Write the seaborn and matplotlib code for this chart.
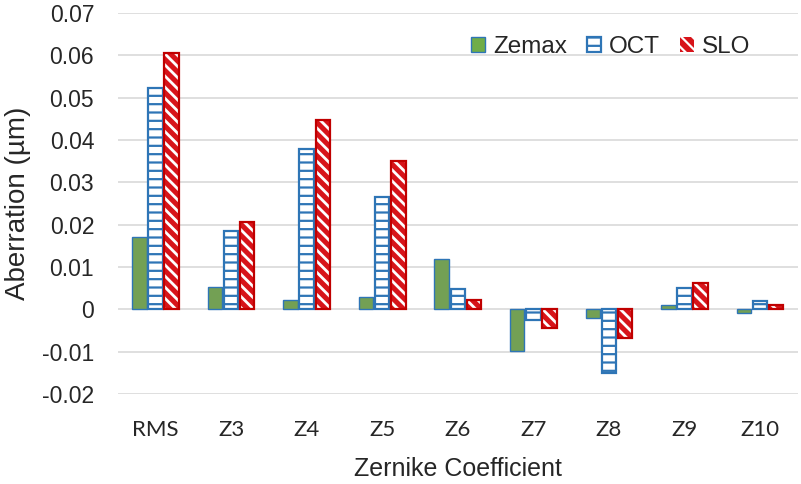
import numpy as np
import pandas as pd
import matplotlib
matplotlib.use("Agg")
import matplotlib.pyplot as plt
from matplotlib.patches import Patch, Rectangle
from matplotlib.ticker import FuncFormatter
import seaborn as sns

# values (micrometres)
coefficients = ["RMS", "Z3", "Z4", "Z5", "Z6", "Z7", "Z8", "Z9", "Z10"]
zemax = [0.0170, 0.0052, 0.0022, 0.0030, 0.0120, -0.0098, -0.0020, 0.0010, -0.0008]
oct_vals = [0.0522, 0.0186, 0.0378, 0.0265, 0.0048, -0.0025, -0.0150, 0.0050, 0.0020]
slo = [0.0606, 0.0206, 0.0448, 0.0350, 0.0023, -0.0045, -0.0068, 0.0062, 0.0011]
methods = ["Zemax", "OCT", "SLO"]

GREEN = "#70AD47"
BLUE = "#2E75B6"
RED = "#D7141A"
RED_EDGE = "#C00000"
GRID = "#D9D9D9"
TEXT = "#262626"

df = pd.DataFrame({
    "coef": coefficients * 3,
    "method": [m for m in methods for _ in coefficients],
    "value": zemax + oct_vals + slo,
})

sns.set_style("white")
plt.rcParams["font.family"] = ["Liberation Sans", "DejaVu Sans"]
plt.rcParams["hatch.linewidth"] = 1.6

fig = plt.figure(figsize=(8.01, 4.84), dpi=100)
ax = fig.add_axes([0.147, 0.186, 0.849, 0.787])

sns.barplot(
    data=df, x="coef", y="value", hue="method",
    order=coefficients, hue_order=methods,
    palette={"Zemax": GREEN, "OCT": "white", "SLO": RED},
    width=0.64, gap=0.1, legend=False, ax=ax, zorder=2,
)

# Zemax: solid green with a thin blue outline
for bar in ax.containers[0]:
    bar.set_edgecolor(BLUE)
    bar.set_linewidth(1.0)

# OCT: white with blue horizontal stripes
for bar in ax.containers[1]:
    bar.set_facecolor("white")
    bar.set_edgecolor(BLUE)
    bar.set_hatch("--")
    bar.set_linewidth(1.6)

# SLO: red with white diagonal stripes, red outline drawn on top
for bar in ax.containers[2]:
    bar.set_facecolor(RED)
    bar.set_edgecolor("white")
    bar.set_hatch("\\\\\\")
    bar.set_linewidth(0)
    if hasattr(bar, "set_hatch_linewidth"):
        bar.set_hatch_linewidth(2.0)
    ax.add_patch(Rectangle(bar.get_xy(), bar.get_width(), bar.get_height(),
                           fill=False, edgecolor=RED_EDGE, linewidth=1.6, zorder=3))

ax.set_ylim(-0.02, 0.07)
ax.set_yticks(np.arange(-0.02, 0.0701, 0.01))
ax.yaxis.set_major_formatter(FuncFormatter(lambda v, p: "0" if abs(v) < 1e-9 else f"{v:.2f}"))
ax.set_xlim(-0.5, len(coefficients) - 0.5)

ax.grid(axis="y", color=GRID, linewidth=1.2, zorder=0)
ax.set_axisbelow(True)
for s in ax.spines.values():
    s.set_visible(False)
ax.tick_params(axis="both", length=0, colors=TEXT)
ax.tick_params(axis="y", labelsize=16.5, pad=17)
ax.tick_params(axis="x", labelsize=16, pad=19)
for lbl in ax.get_xticklabels():
    lbl.set_family(["Lato", "DejaVu Sans"])

ax.set_xlabel("Zernike Coefficient", fontsize=18, color=TEXT)
ax.xaxis.set_label_coords(0.5, -0.165)
ax.set_ylabel("Aberration (µm)", fontsize=20, color=TEXT)
ax.yaxis.set_label_coords(-0.128, 0.5)

handles = [
    Patch(facecolor=GREEN, edgecolor=BLUE, linewidth=1.0, label="Zemax"),
    Patch(facecolor="white", edgecolor=BLUE, hatch="--", linewidth=1.6, label="OCT"),
    Patch(facecolor=RED, edgecolor="white", hatch="\\\\\\", linewidth=0, label="SLO"),
]
ax.legend(handles=handles, loc="upper right", bbox_to_anchor=(0.93, 0.94), ncol=3,
          frameon=False, fontsize=17.5, handlelength=0.55, handleheight=0.6,
          handletextpad=0.33, columnspacing=0.85, borderpad=0, borderaxespad=0,
          labelcolor=TEXT)

fig.savefig("out.png", dpi=100)
